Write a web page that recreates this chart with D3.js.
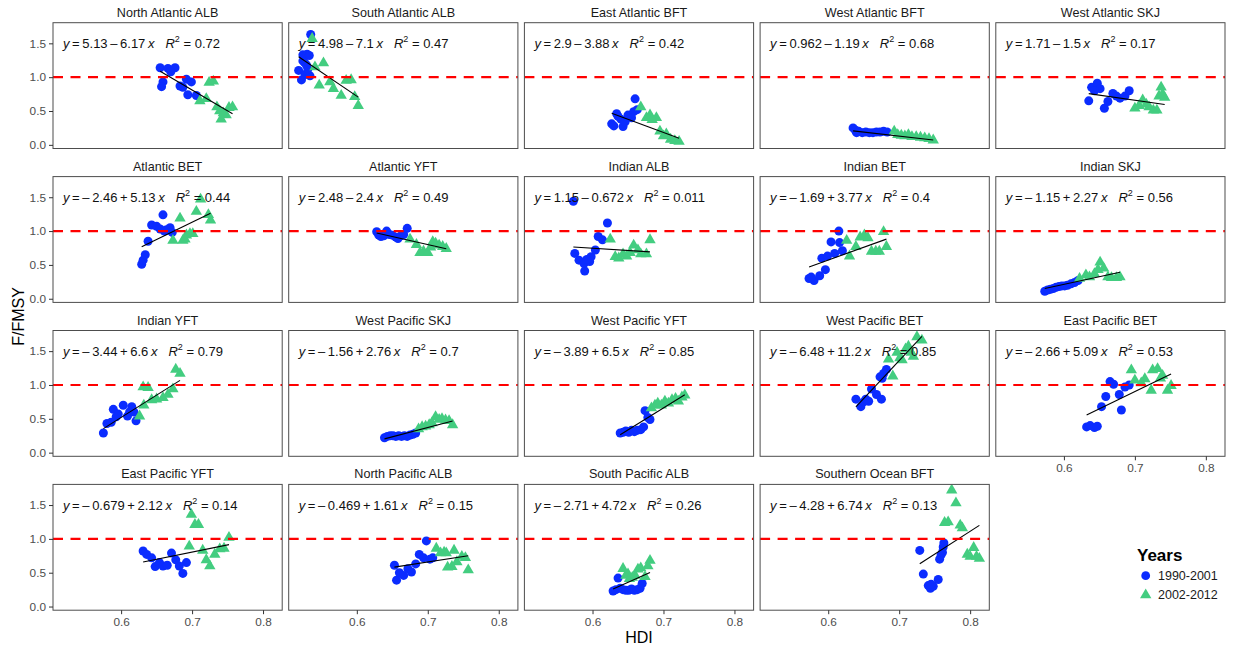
<!DOCTYPE html>
<html>
<head>
<meta charset="utf-8">
<script src="https://cdn.jsdelivr.net/npm/d3@7"></script>
<style>
  body { margin: 0; background: #ffffff; }
  text { font-family: "Liberation Sans", Arial, Helvetica, sans-serif; }
</style>
</head>
<body>
<svg id="chart" width="1235" height="650"></svg>
<script>
// ---- Facets: stock names and fitted regression (F/FMSY ~ HDI) ----
const stocks = [
  "North Atlantic ALB", "South Atlantic ALB", "East Atlantic BFT", "West Atlantic BFT", "West Atlantic SKJ",
  "Atlantic BET", "Atlantic YFT", "Indian ALB", "Indian BET", "Indian SKJ",
  "Indian YFT", "West Pacific SKJ", "West Pacific YFT", "West Pacific BET", "East Pacific BET",
  "East Pacific YFT", "North Pacific ALB", "South Pacific ALB", "Southern Ocean BFT"
];
const intercepts = [5.13, 4.98, 2.9, 0.962, 1.71, -2.46, 2.48, 1.15, -1.69, -1.15,
                    -3.44, -1.56, -3.89, -6.48, -2.66, -0.679, -0.469, -2.71, -4.28];
const slopes     = [-6.17, -7.1, -3.88, -1.19, -1.5, 5.13, -2.4, -0.672, 3.77, 2.27,
                    6.6, 2.76, 6.5, 11.2, 5.09, 2.12, 1.61, 4.72, 6.74];
const rSquared   = [0.72, 0.47, 0.42, 0.68, 0.17, 0.44, 0.49, 0.011, 0.4, 0.56,
                    0.79, 0.7, 0.85, 0.85, 0.53, 0.14, 0.15, 0.26, 0.13];

const periods = ["1990-2001", "2002-2012"];
const hdiTicks = [0.6, 0.7, 0.8];
const fTicks = [0, 0.5, 1, 1.5];
const referenceF = 1;

// ---- Observations per stock: [HDI, F/FMSY], 1990-2001 ----
const early = [
  [[0.655,1.14],[0.666,1.13],[0.676,1.14],[0.670,1.08],[0.659,0.93],[0.657,0.86],[0.692,0.97],[0.699,0.93],[0.683,0.87],[0.687,0.85],[0.694,0.74],[0.706,0.73]],
  [[0.535,1.63],[0.524,1.33],[0.530,1.34],[0.533,1.32],[0.518,1.10],[0.522,0.96],[0.527,1.04],[0.534,1.02],[0.524,1.24],[0.529,1.18],[0.526,1.22],[0.531,1.12]],
  [[0.660,0.68],[0.634,0.46],[0.627,0.31],[0.630,0.28],[0.643,0.27],[0.650,0.44],[0.658,0.49],[0.663,0.52],[0.655,0.40],[0.640,0.38],[0.646,0.34],[0.636,0.42]],
  [[0.635,0.25],[0.638,0.22],[0.643,0.20],[0.648,0.18],[0.653,0.19],[0.658,0.18],[0.663,0.18],[0.668,0.19],[0.673,0.19],[0.678,0.20],[0.683,0.19],[0.640,0.18]],
  [[0.639,0.85],[0.647,0.91],[0.651,0.83],[0.635,0.65],[0.657,0.54],[0.662,0.64],[0.669,0.76],[0.674,0.72],[0.679,0.69],[0.686,0.72],[0.692,0.80],[0.643,0.80]],
  [[0.629,0.51],[0.631,0.57],[0.634,0.65],[0.638,0.85],[0.643,1.09],[0.650,1.07],[0.659,1.24],[0.655,1.03],[0.664,1.02],[0.669,1.05],[0.672,0.98],[0.661,1.00]],
  [[0.628,0.99],[0.631,0.94],[0.634,0.92],[0.638,0.93],[0.642,1.00],[0.646,0.95],[0.650,0.94],[0.655,0.91],[0.658,0.89],[0.662,0.93],[0.666,0.95],[0.671,1.04]],
  [[0.573,1.44],[0.575,0.67],[0.581,0.57],[0.589,0.41],[0.588,0.52],[0.596,0.55],[0.598,0.62],[0.604,0.72],[0.608,0.92],[0.614,0.87],[0.621,1.12],[0.592,0.58]],
  [[0.573,0.30],[0.580,0.27],[0.576,0.32],[0.588,0.34],[0.596,0.43],[0.591,0.60],[0.599,0.63],[0.609,0.67],[0.620,0.71],[0.604,0.84],[0.616,0.83],[0.615,1.00]],
  [[0.573,0.11],[0.577,0.13],[0.581,0.14],[0.585,0.15],[0.589,0.17],[0.593,0.18],[0.597,0.19],[0.601,0.19],[0.605,0.20],[0.610,0.22],[0.615,0.24],[0.620,0.27]],
  [[0.575,0.29],[0.580,0.43],[0.586,0.45],[0.589,0.64],[0.593,0.53],[0.596,0.57],[0.603,0.70],[0.609,0.54],[0.612,0.60],[0.615,0.68],[0.618,0.60],[0.621,0.47]],
  [[0.639,0.22],[0.643,0.24],[0.647,0.25],[0.651,0.25],[0.655,0.24],[0.659,0.25],[0.663,0.24],[0.667,0.25],[0.671,0.24],[0.675,0.26],[0.679,0.27],[0.683,0.29]],
  [[0.639,0.29],[0.643,0.30],[0.647,0.32],[0.651,0.30],[0.655,0.33],[0.659,0.31],[0.663,0.33],[0.668,0.34],[0.672,0.38],[0.674,0.62],[0.678,0.52],[0.681,0.49]],
  [[0.639,0.79],[0.646,0.68],[0.650,0.75],[0.653,0.79],[0.657,0.76],[0.661,0.94],[0.668,0.86],[0.675,0.79],[0.673,1.12],[0.678,1.17],[0.682,1.23],[0.676,1.10]],
  [[0.632,0.38],[0.637,0.40],[0.643,0.37],[0.647,0.39],[0.653,0.68],[0.659,0.83],[0.665,1.05],[0.670,1.01],[0.678,0.86],[0.681,0.63],[0.686,0.97],[0.692,1.00]],
  [[0.631,0.82],[0.636,0.77],[0.643,0.72],[0.648,0.59],[0.654,0.65],[0.659,0.60],[0.665,0.61],[0.671,0.79],[0.677,0.69],[0.682,0.60],[0.687,0.49],[0.692,0.65]],
  [[0.653,0.61],[0.656,0.39],[0.660,0.50],[0.666,0.46],[0.672,0.56],[0.677,0.51],[0.683,0.63],[0.688,0.77],[0.694,0.72],[0.698,0.97],[0.703,0.70],[0.707,0.72]],
  [[0.629,0.23],[0.633,0.25],[0.636,0.42],[0.639,0.27],[0.643,0.25],[0.647,0.24],[0.651,0.24],[0.655,0.26],[0.659,0.24],[0.663,0.25],[0.667,0.27],[0.670,0.34]],
  [[0.729,0.83],[0.734,0.48],[0.741,0.31],[0.744,0.27],[0.748,0.30],[0.755,0.40],[0.757,0.70],[0.759,0.76],[0.761,0.80],[0.762,0.88],[0.763,0.94],[0.745,0.33]]
];

// ---- Observations per stock: [HDI, F/FMSY], 2002-2012 ----
const late = [
  [[0.711,0.65],[0.720,0.68],[0.724,0.92],[0.730,0.94],[0.735,0.56],[0.739,0.50],[0.741,0.38],[0.748,0.44],[0.752,0.55],[0.757,0.56],[0.744,0.47]],
  [[0.537,1.57],[0.541,1.15],[0.553,1.21],[0.547,0.88],[0.562,0.93],[0.567,0.83],[0.578,0.73],[0.585,0.95],[0.592,0.96],[0.597,0.71],[0.602,0.58]],
  [[0.668,0.56],[0.676,0.40],[0.681,0.44],[0.690,0.40],[0.684,0.37],[0.695,0.20],[0.700,0.13],[0.704,0.16],[0.710,0.08],[0.716,0.06],[0.722,0.05]],
  [[0.693,0.20],[0.698,0.15],[0.703,0.14],[0.708,0.13],[0.713,0.15],[0.718,0.12],[0.724,0.12],[0.730,0.11],[0.736,0.10],[0.742,0.09],[0.748,0.07]],
  [[0.700,0.54],[0.706,0.58],[0.711,0.66],[0.716,0.60],[0.720,0.56],[0.726,0.51],[0.731,0.51],[0.734,0.72],[0.737,0.85],[0.739,0.75],[0.742,0.70]],
  [[0.673,0.86],[0.687,0.86],[0.683,1.19],[0.692,0.94],[0.697,0.96],[0.701,0.96],[0.706,1.29],[0.712,1.47],[0.723,1.24],[0.726,1.16],[0.690,0.88]],
  [[0.675,0.88],[0.684,0.80],[0.689,0.68],[0.694,0.70],[0.700,0.68],[0.704,0.76],[0.707,0.84],[0.711,0.82],[0.716,0.79],[0.721,0.77],[0.726,0.74]],
  [[0.625,0.88],[0.632,0.62],[0.637,0.60],[0.643,0.66],[0.648,0.63],[0.653,0.68],[0.658,0.79],[0.664,0.72],[0.668,0.66],[0.676,0.66],[0.681,0.87]],
  [[0.626,0.86],[0.630,0.63],[0.639,0.77],[0.645,0.91],[0.651,0.94],[0.656,0.90],[0.661,0.70],[0.667,0.70],[0.672,0.70],[0.678,0.99],[0.682,0.77]],
  [[0.622,0.30],[0.631,0.35],[0.636,0.32],[0.643,0.37],[0.648,0.43],[0.651,0.54],[0.656,0.45],[0.662,0.32],[0.667,0.31],[0.674,0.31],[0.679,0.32]],
  [[0.626,0.54],[0.632,0.70],[0.631,0.97],[0.638,0.96],[0.643,0.78],[0.650,0.79],[0.659,0.81],[0.666,0.86],[0.673,0.94],[0.677,1.23],[0.683,1.17]],
  [[0.687,0.35],[0.692,0.38],[0.697,0.39],[0.702,0.41],[0.706,0.44],[0.711,0.53],[0.716,0.49],[0.720,0.50],[0.725,0.48],[0.730,0.47],[0.735,0.41]],
  [[0.683,0.66],[0.688,0.70],[0.692,0.73],[0.697,0.70],[0.702,0.76],[0.707,0.73],[0.712,0.78],[0.717,0.80],[0.721,0.76],[0.726,0.82],[0.730,0.85]],
  [[0.685,1.38],[0.691,1.13],[0.697,1.48],[0.701,1.40],[0.704,1.37],[0.709,1.53],[0.713,1.57],[0.717,1.48],[0.720,1.42],[0.725,1.71],[0.732,1.66]],
  [[0.695,1.22],[0.700,1.07],[0.709,1.03],[0.714,1.09],[0.723,0.92],[0.725,1.22],[0.732,1.24],[0.736,1.10],[0.739,1.14],[0.746,0.92],[0.751,0.99]],
  [[0.696,0.89],[0.699,1.36],[0.704,1.21],[0.709,1.21],[0.715,0.83],[0.720,0.69],[0.725,0.60],[0.732,0.77],[0.739,0.85],[0.745,0.86],[0.752,1.02]],
  [[0.712,0.86],[0.718,0.79],[0.723,0.80],[0.726,0.79],[0.728,0.58],[0.734,0.59],[0.737,0.83],[0.741,0.66],[0.748,0.74],[0.753,0.72],[0.757,0.54]],
  [[0.643,0.56],[0.647,0.46],[0.650,0.48],[0.652,0.41],[0.656,0.43],[0.660,0.46],[0.664,0.55],[0.668,0.57],[0.674,0.44],[0.678,0.60],[0.681,0.68]],
  [[0.764,1.24],[0.769,1.25],[0.774,1.72],[0.780,1.53],[0.786,1.20],[0.789,1.16],[0.796,0.77],[0.800,0.74],[0.805,0.87],[0.809,0.74],[0.813,0.71]]
];

// ---- Layout ----
const nCols = 5;
const left0 = 53, top0 = 22.7;
const panelW = 229.2, panelH = 125.8;
const colStep = 235.7, rowStep = 153.9;
const blue = "#0b2cff", green = "#43CD80";

const svg = d3.select("#chart");

const x = d3.scaleLinear().domain([0.504, 0.827]).range([0, panelW]);
const y = d3.scaleLinear().domain([-0.054, 1.805]).range([panelH, 0]);

svg.append("defs").append("clipPath").attr("id", "panel-clip")
  .append("rect").attr("x", 0).attr("y", 0).attr("width", panelW).attr("height", panelH);

const triangle = d3.symbol().type(d3.symbolTriangle).size(56);

// Which facets carry a bottom axis (last one in each column)
const lastInColumn = new Set();
for (let c = 0; c < nCols; c++) {
  let last = -1;
  for (let i = c; i < stocks.length; i += nCols) last = i;
  lastInColumn.add(last);
}

const thin = "\u2009";
function fmtNum(v) { return String(Math.abs(v)); }

stocks.forEach((name, i) => {
  const col = i % nCols, row = Math.floor(i / nCols);
  const g = svg.append("g")
    .attr("transform", `translate(${left0 + col * colStep},${top0 + row * rowStep})`);

  // strip title
  g.append("text")
    .attr("x", panelW / 2).attr("y", -6)
    .attr("text-anchor", "middle")
    .attr("font-size", 12.6)
    .attr("fill", "#1a1a1a")
    .text(name);

  const plot = g.append("g").attr("clip-path", "url(#panel-clip)");

  // 1990-2001 circles
  plot.selectAll("circle.early").data(early[i]).join("circle")
    .attr("class", "early")
    .attr("cx", d => x(d[0])).attr("cy", d => y(d[1]))
    .attr("r", 4.5).attr("fill", blue);

  // 2002-2012 triangles
  plot.selectAll("path.late").data(late[i]).join("path")
    .attr("class", "late")
    .attr("d", triangle)
    .attr("transform", d => `translate(${x(d[0])},${y(d[1])})`)
    .attr("fill", green);

  // regression line across the observed HDI range
  const allX = early[i].concat(late[i]).map(d => d[0]);
  const [x0, x1] = d3.extent(allX);
  const fit = v => intercepts[i] + slopes[i] * v;
  plot.append("line")
    .attr("x1", x(x0)).attr("y1", y(fit(x0)))
    .attr("x2", x(x1)).attr("y2", y(fit(x1)))
    .attr("stroke", "#000").attr("stroke-width", 1.1);

  // reference F = FMSY
  plot.append("line")
    .attr("x1", 0).attr("x2", panelW)
    .attr("y1", y(referenceF)).attr("y2", y(referenceF))
    .attr("stroke", "#ff0000").attr("stroke-width", 2.1)
    .attr("stroke-dasharray", "10,7.5");

  // regression equation label
  const a = intercepts[i], b = slopes[i];
  const aTxt = a < 0 ? "\u2013" + thin + fmtNum(a) : fmtNum(a);
  const bTxt = thin + (b < 0 ? "\u2013" : "+") + thin + fmtNum(b) + thin;
  const eq = g.append("text")
    .attr("x", 10).attr("y", y(1.5) + 4.6)
    .attr("font-size", 13).attr("fill", "#111");
  eq.append("tspan").attr("font-style", "italic").text("y");
  eq.append("tspan").text(thin + "=" + thin + aTxt + bTxt);
  eq.append("tspan").attr("font-style", "italic").text("x");
  eq.append("tspan").attr("font-style", "italic").attr("dx", 11).text("R");
  eq.append("tspan").attr("font-size", 9).attr("dy", -5.5).text("2");
  eq.append("tspan").attr("dy", 5.5).text(" = " + rSquared[i]);

  // panel border
  g.append("rect")
    .attr("width", panelW).attr("height", panelH)
    .attr("fill", "none").attr("stroke", "#4d4d4d").attr("stroke-width", 1);

  // left axis on first column
  if (col === 0) {
    const ax = g.append("g")
      .call(d3.axisLeft(y).tickValues(fTicks).tickFormat(d3.format(".1f")).tickSize(4).tickPadding(3));
    ax.select(".domain").remove();
    ax.selectAll("line").attr("stroke", "#333");
    ax.selectAll("text").attr("font-size", 11.8).attr("fill", "#4d4d4d")
      .attr("font-family", "Liberation Sans, Arial, sans-serif");
  }
  // bottom axis on the last facet of each column
  if (lastInColumn.has(i)) {
    const ax = g.append("g").attr("transform", `translate(0,${panelH})`)
      .call(d3.axisBottom(x).tickValues(hdiTicks).tickFormat(d3.format(".1f")).tickSize(4).tickPadding(3));
    ax.select(".domain").remove();
    ax.selectAll("line").attr("stroke", "#333");
    ax.selectAll("text").attr("font-size", 11.8).attr("fill", "#4d4d4d")
      .attr("font-family", "Liberation Sans, Arial, sans-serif");
  }
});

// axis titles
const gridLeft = left0, gridRight = left0 + 4 * colStep + panelW;
const gridTop = top0, gridBottom = top0 + 3 * rowStep + panelH;
svg.append("text")
  .attr("x", (gridLeft + gridRight) / 2).attr("y", 643)
  .attr("text-anchor", "middle").attr("font-size", 16).attr("fill", "#000")
  .text("HDI");
svg.append("text")
  .attr("transform", `translate(24,${(gridTop + gridBottom) / 2}) rotate(-90)`)
  .attr("text-anchor", "middle").attr("font-size", 16).attr("fill", "#000")
  .text("F/FMSY");

// legend
const legend = svg.append("g").attr("transform", "translate(1137,0)");
legend.append("text").attr("x", 0).attr("y", 561)
  .attr("font-size", 17).attr("font-weight", "bold").attr("fill", "#000")
  .text("Years");
const legendY = [575.7, 595];
legend.append("circle").attr("cx", 8.7).attr("cy", legendY[0]).attr("r", 4.4).attr("fill", blue);
legend.append("path").attr("d", triangle).attr("transform", `translate(8.7,${legendY[1]})`).attr("fill", green);
periods.forEach((p, k) => {
  legend.append("text").attr("x", 21).attr("y", legendY[k] + 4.3)
    .attr("font-size", 12.5).attr("fill", "#1a1a1a").text(p);
});
</script>
</body>
</html>
